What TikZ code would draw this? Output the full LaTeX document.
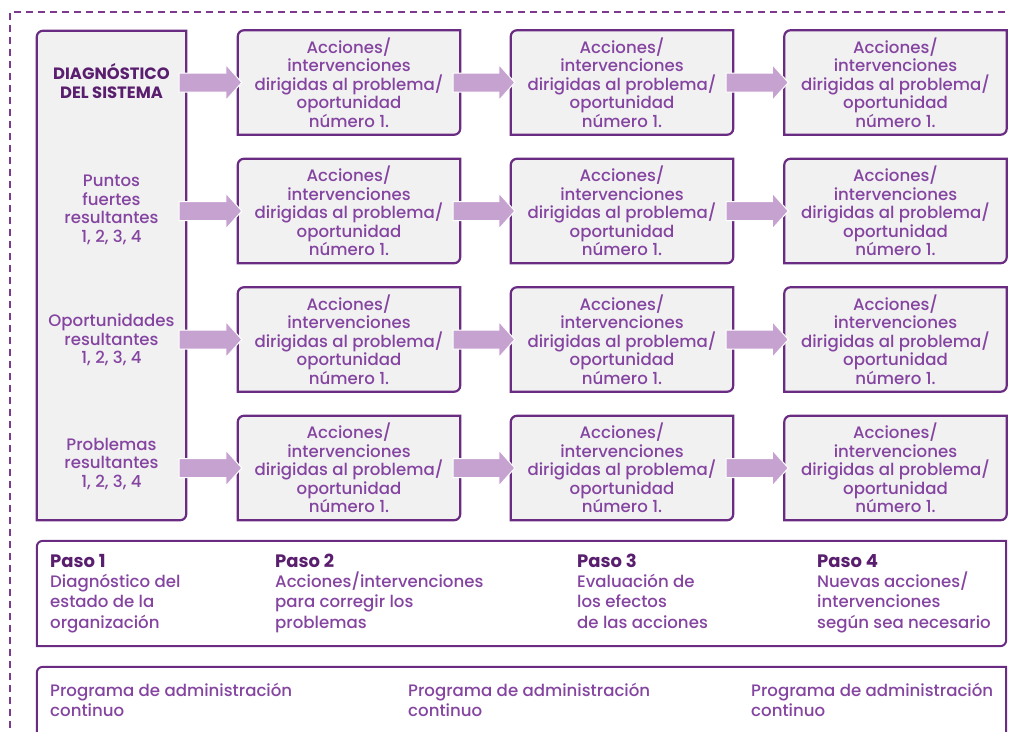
\documentclass[tikz,border=0pt]{standalone}
\usepackage{fontspec}
\setmainfont{Poppins}[UprightFont={* Medium}, BoldFont={* Bold}]
\usetikzlibrary{calc}

\definecolor{frame}{HTML}{6A2C82}
\definecolor{txt}{HTML}{8444A0}
\definecolor{head}{HTML}{5A1E6E}
\definecolor{arrowfill}{HTML}{C6A2D0}
\definecolor{boxfill}{HTML}{F1F1F2}
\definecolor{dashc}{HTML}{7B3A8F}

\pgfdeclarelayer{bg}
\pgfsetlayers{bg,main}

\tikzset{
  celltext/.style={align=center, text=txt, inner sep=0pt,
    font=\fontsize{16.6}{18.5}\selectfont},
  cell/.style={celltext, minimum width=222pt, minimum height=104pt},
  sidelabel/.style={celltext},
  sidehead/.style={align=center, text=head, inner sep=0pt,
    font=\fontsize{16.4}{18.5}\selectfont\bfseries},
  steptext/.style={align=left, text=txt, inner sep=0pt, anchor=base west,
    font=\fontsize{16.6}{20.3}\selectfont},
  boxline/.style={draw=frame, line width=2.2pt, fill=boxfill},
  whitebox/.style={draw=frame, line width=2pt, fill=white},
  arrowbody/.style={fill=arrowfill, draw=white, line width=1pt},
  outerframe/.style={draw=dashc, line width=2pt, dash pattern=on 7pt off 5pt},
}

% bold step title inside a step description
\newcommand{\steptitle}[1]{{\fontsize{18}{20.3}\selectfont\bfseries\color{head}#1}}

% box with rounded top-left and bottom-right corners
\newcommand{\cutbox}[2]{%
  \path[#2] (#1.south west) -- ([yshift=-6pt]#1.north west)
    arc[start angle=180, end angle=90, radius=6pt] -- (#1.north east)
    -- ([yshift=6pt]#1.south east)
    arc[start angle=0, end angle=-90, radius=6pt] -- cycle;}

% broad arrow from the east side of one node to the west side of another
\newcommand{\fatarrow}[2]{%
  \path[arrowbody] let \p1=(#1.east), \p2=(#2.west) in
    (\x1-7pt,\y2+9.5pt) -- (\x2-12pt,\y2+9.5pt) -- (\x2-12pt,\y2+18pt)
    -- (\x2+4pt,\y2) -- (\x2-12pt,\y2-18pt) -- (\x2-12pt,\y2-9.5pt)
    -- (\x1-7pt,\y2-9.5pt) -- cycle;}

\begin{document}
\begin{tikzpicture}[x=1pt, y=-1pt]
\useasboundingbox (0,0) rectangle (1017,731);
\clip (0,0) rectangle (1017,731);

% dashed outer frame
\coordinate (frTR) at (1005,12);
\coordinate (frTL) at (10,12);
\coordinate (frBL) at (10,740);
\draw[outerframe] (frTR) -- (frTL) -- (frBL);

% left column: system diagnosis
\node[minimum width=149pt, minimum height=489pt, inner sep=0pt] (L) at (111.5,275.5) {};
\node[sidehead] (diag) at (111.5,81) {DIAGNÓSTICO\\DEL SISTEMA};
\node[sidelabel] (pf) at (111.5,210) {Puntos\\fuertes\\resultantes\\1, 2, 3, 4};
\node[sidelabel] (op) at (111.5,340) {Oportunidades\\resultantes\\1, 2, 3, 4};
\node[sidelabel] (pr) at (111.5,464) {Problemas\\resultantes\\1, 2, 3, 4};

% grid of action boxes
\foreach \r/\y in {1/82.5, 2/211, 3/339.5, 4/468} {
  \foreach \c/\x in {1/349, 2/622, 3/895.5} {
    \node[cell] (r\r c\c) at (\x,\y)
      {Acciones/\\intervenciones\\dirigidas al problema/\\oportunidad\\número 1.};
  }
}

% step and programme panels
\node[minimum width=969pt, minimum height=105pt, inner sep=0pt] (steps) at (521.5,593.5) {};
\node[minimum width=969pt, minimum height=80pt, inner sep=0pt] (prog) at (521.5,707) {};

% the base anchor of these nodes is the baseline of their last line
\node[steptext] (p1) at (50,628) {\steptitle{Paso 1}\\Diagnóstico del\\estado de la\\organización};
\node[steptext] (p2) at (275,628) {\steptitle{Paso 2}\\Acciones/intervenciones\\para corregir los\\problemas};
\node[steptext] (p3) at (577,628) {\steptitle{Paso 3}\\Evaluación de\\los efectos\\de las acciones};
\node[steptext] (p4) at (817,628) {\steptitle{Paso 4}\\Nuevas acciones/\\intervenciones\\según sea necesario};

\node[steptext] (g1) at (50,716.5) {Programa de administración\\continuo};
\node[steptext] (g2) at (408,716.5) {Programa de administración\\continuo};
\node[steptext] (g3) at (751,716.5) {Programa de administración\\continuo};

% box outlines behind the text
\begin{pgfonlayer}{bg}
  \cutbox{L}{boxline}
  \foreach \r in {1,2,3,4} {
    \foreach \c in {1,2,3} {
      \cutbox{r\r c\c}{boxline}
    }
  }
  \cutbox{steps}{whitebox}
  \cutbox{prog}{whitebox}
\end{pgfonlayer}

% arrows
\foreach \r in {1,2,3,4} {
  \fatarrow{L}{r\r c1}
  \fatarrow{r\r c1}{r\r c2}
  \fatarrow{r\r c2}{r\r c3}
}
\end{tikzpicture}
\end{document}
